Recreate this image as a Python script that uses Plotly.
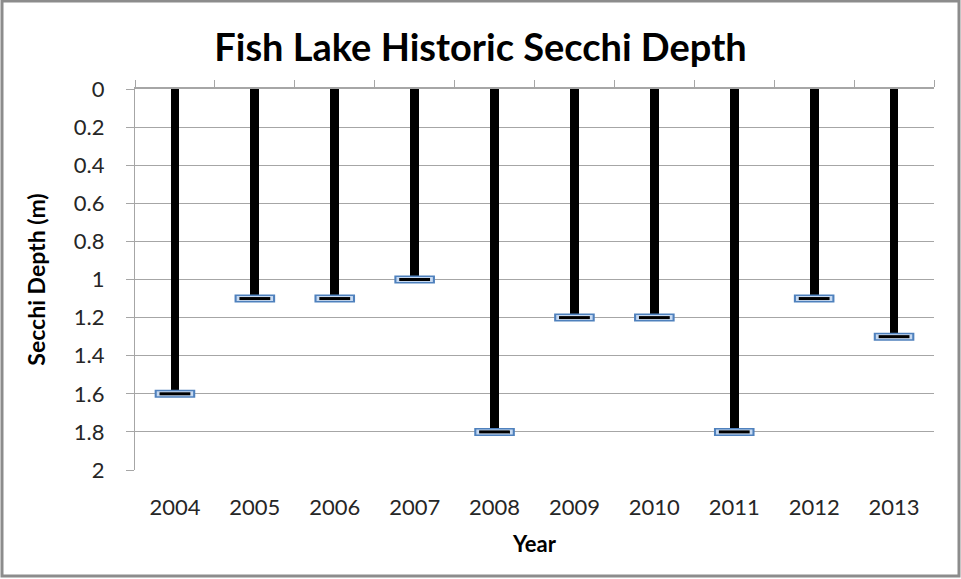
import plotly.graph_objects as go

years = ["2004", "2005", "2006", "2007", "2008", "2009", "2010", "2011", "2012", "2013"]
depth = [1.6, 1.1, 1.1, 1.0, 1.8, 1.2, 1.2, 1.8, 1.1, 1.3]
y_ticks = [0, 0.2, 0.4, 0.6, 0.8, 1, 1.2, 1.4, 1.6, 1.8, 2]
y_tick_text = ["0", "0.2", "0.4", "0.6", "0.8", "1", "1.2", "1.4", "1.6", "1.8", "2"]

W, H = 961, 579
L, R, T, B = 135, 27, 89, 109
pw, ph = W - L - R, H - T - B

font = "Lato, 'Open Sans', sans-serif"
grid = "#a6a6a6"
txt = "#262626"

fig = go.Figure()
fig.add_trace(go.Bar(x=years, y=depth, width=0.11, marker=dict(color="black", line=dict(width=0)),
                     showlegend=False, hoverinfo="skip"))
fig.add_trace(go.Scatter(x=years, y=depth, xaxis="x2", mode="markers", showlegend=False,
                         marker=dict(symbol="line-ew", size=29, line=dict(width=8, color="#4f81bd"))))
fig.add_trace(go.Scatter(x=years, y=depth, xaxis="x2", mode="markers", showlegend=False,
                         marker=dict(symbol="line-ew", size=26, line=dict(width=5, color="#c6d9f1"))))
fig.add_trace(go.Scatter(x=years, y=depth, xaxis="x2", mode="markers", showlegend=False,
                         marker=dict(symbol="line-ew", size=22, line=dict(width=3, color="black"))))

fig.update_layout(
    width=W, height=H,
    margin=dict(l=L, r=R, t=T, b=B),
    paper_bgcolor="white", plot_bgcolor="white",
    font=dict(family=font, color=txt),
    title=dict(text="<b>Fish Lake Historic Secchi Depth</b>", x=0.5, xanchor="center",
               y=1 - 48 / H, yanchor="middle", font=dict(size=38, color="black", family=font)),
    bargap=0,
    xaxis=dict(type="category", categoryorder="array", categoryarray=years,
               range=[-0.5, 9.5], showgrid=False, showline=False, ticks="",
               tickfont=dict(size=22, color=txt), ticklabelstandoff=22,
               title=dict(text="<b>Year</b>", font=dict(size=22, color="black"), standoff=17)),
    xaxis2=dict(type="category", categoryorder="array", categoryarray=years,
                range=[-0.5, 9.5], overlaying="x", side="top", showgrid=False,
                showline=True, linecolor=grid, linewidth=1.5, ticks="outside",
                tickson="boundaries", ticklen=7, tickcolor=grid, showticklabels=False),
    yaxis=dict(range=[2, 0], tickvals=y_ticks, ticktext=y_tick_text, showgrid=True,
               gridcolor=grid, gridwidth=1.2, showline=True, linecolor=grid, linewidth=1.2,
               ticks="outside", ticklen=8, tickcolor=grid, zeroline=False,
               tickfont=dict(size=22, color=txt), ticklabelstandoff=17,
               title=dict(text="<b>Secchi Depth (m)</b>", font=dict(size=23, color="black"), standoff=21)),
    shapes=[dict(type="rect", xref="paper", yref="paper",
                 x0=(2 - L) / pw, x1=(W - 2 - L) / pw,
                 y0=-(H - 3 - (T + ph)) / ph, y1=1 + (T - 1) / ph,
                 line=dict(color="#8c8c8c", width=3), layer="above")],
)

fig.write_html("out.html")
